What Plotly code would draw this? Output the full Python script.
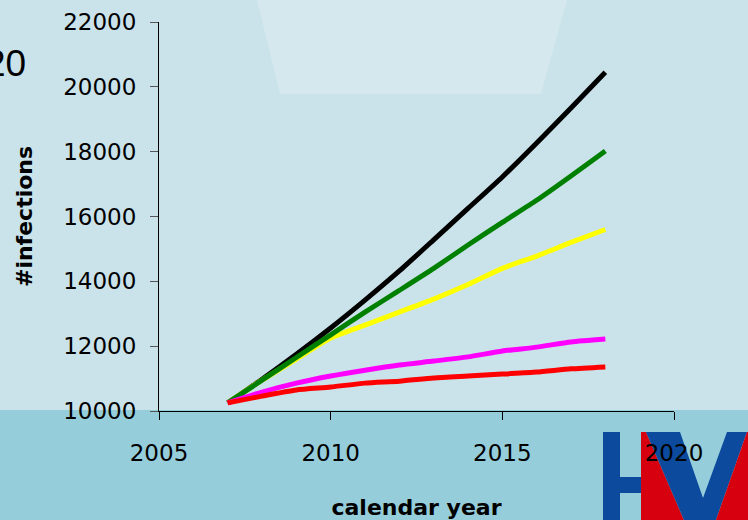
import plotly.graph_objects as go

years = list(range(2007, 2019))
black_vals = [10250, 10980, 11750, 12560, 13420, 14320, 15280, 16250, 17220, 18270, 19350, 20450]
green_vals = [10250, 10950, 11650, 12350, 13050, 13720, 14400, 15120, 15820, 16500, 17250, 18020]
yellow_vals = [10250, 10950, 11600, 12250, 12650, 13050, 13450, 13900, 14400, 14780, 15200, 15600]
magenta_vals = [10250, 10585, 10860, 11080, 11260, 11420, 11540, 11670, 11850, 11970, 12130, 12220]
red_vals = [10250, 10460, 10650, 10740, 10860, 10920, 11020, 11080, 11140, 11200, 11300, 11360]

x_ticks = [2005, 2010, 2015, 2020]
y_ticks = [10000, 12000, 14000, 16000, 18000, 20000, 22000]

W, H = 748, 520
L, R, T, B = 159, 674, 22, 411
PW, PH = R - L, B - T


def px(x):
    return (x - L) / PW


def py(y):
    return (B - y) / PH


def path(pts):
    s = "M " + " L ".join(f"{px(a):.5f},{py(b):.5f}" for a, b in pts) + " Z"
    return s


fig = go.Figure()
series = [
    (black_vals, "#000000"),
    (yellow_vals, "#FFFF00"),
    (green_vals, "#008000"),
    (magenta_vals, "#FF00FF"),
    (red_vals, "#FF0000"),
]
for vals, col in series:
    fig.add_trace(go.Scatter(x=years, y=vals, mode="lines",
                             line=dict(color=col, width=5, shape="spline", smoothing=0.6),
                             showlegend=False, hoverinfo="skip"))

shapes = []
# lighter trapezoid at top
shapes.append(dict(type="path", xref="paper", yref="paper", layer="below",
                   path=path([(257, 0), (567, 0), (541, 94), (280, 94)]),
                   fillcolor="#D4E8EE", line=dict(width=0)))
# darker band at bottom
shapes.append(dict(type="rect", xref="paper", yref="paper", layer="below",
                   x0=px(0), x1=px(W), y0=py(410), y1=py(H),
                   fillcolor="#95CDDB", line=dict(width=0)))
# logo
blue = "#0B4A9C"
red = "#D7000F"
shapes.append(dict(type="rect", xref="paper", yref="paper", layer="below",
                   x0=px(603), x1=px(620), y0=py(432), y1=py(H),
                   fillcolor=blue, line=dict(width=0)))
shapes.append(dict(type="rect", xref="paper", yref="paper", layer="below",
                   x0=px(620), x1=px(641), y0=py(477), y1=py(493),
                   fillcolor=blue, line=dict(width=0)))
shapes.append(dict(type="path", xref="paper", yref="paper", layer="below",
                   path=path([(641, 432), (646, 432), (684, 520), (641, 520)]),
                   fillcolor=red, line=dict(width=0)))
shapes.append(dict(type="path", xref="paper", yref="paper", layer="below",
                   path=path([(646, 432), (680, 432), (703, 498), (727, 432),
                              (747, 432), (716, 520), (684, 520)]),
                   fillcolor=blue, line=dict(width=0)))
shapes.append(dict(type="path", xref="paper", yref="paper", layer="below",
                   path=path([(747, 432), (748, 432), (748, 520), (716, 520)]),
                   fillcolor=red, line=dict(width=0)))

fig.update_layout(
    width=W, height=H,
    margin=dict(l=L, r=W - R, t=T, b=H - B, autoexpand=False),
    paper_bgcolor="#CAE3EA",
    plot_bgcolor="rgba(0,0,0,0)",
    shapes=shapes,
    showlegend=False,
    annotations=[dict(text="20", xref="paper", yref="paper",
                      x=px(28), y=py(64), xanchor="right", yanchor="middle",
                      showarrow=False,
                      font=dict(family="Liberation Sans", size=37, color="#000000"))],
)

fig.update_xaxes(
    range=[2005, 2020], tickvals=x_ticks, ticktext=[str(v) for v in x_ticks],
    showgrid=False, zeroline=False, showline=True, linecolor="#000000", linewidth=1,
    ticks="outside", ticklen=8, tickcolor="#000000", tickwidth=1,
    tickfont=dict(family="DejaVu Sans", size=23, color="#000000"),
    ticklabelstandoff=13, automargin=False,
    title=dict(text="calendar year", standoff=35,
               font=dict(family="DejaVu Sans", size=22, color="#000000", weight="bold")),
)
fig.update_yaxes(
    range=[10000, 22000], tickvals=y_ticks, ticktext=[str(v) for v in y_ticks],
    showgrid=False, zeroline=False, showline=True, linecolor="#000000", linewidth=1,
    ticks="outside", ticklen=8, tickcolor="#555555", tickwidth=1,
    tickfont=dict(family="DejaVu Sans", size=23, color="#000000"),
    ticklabelstandoff=9, automargin=False,
    title=dict(text="#infections", standoff=24,
               font=dict(family="DejaVu Sans", size=22, color="#000000", weight="bold")),
)

fig.write_html("out.html", config={"displayModeBar": False},
               post_script="document.body.style.margin='0';document.body.style.padding='0';")
